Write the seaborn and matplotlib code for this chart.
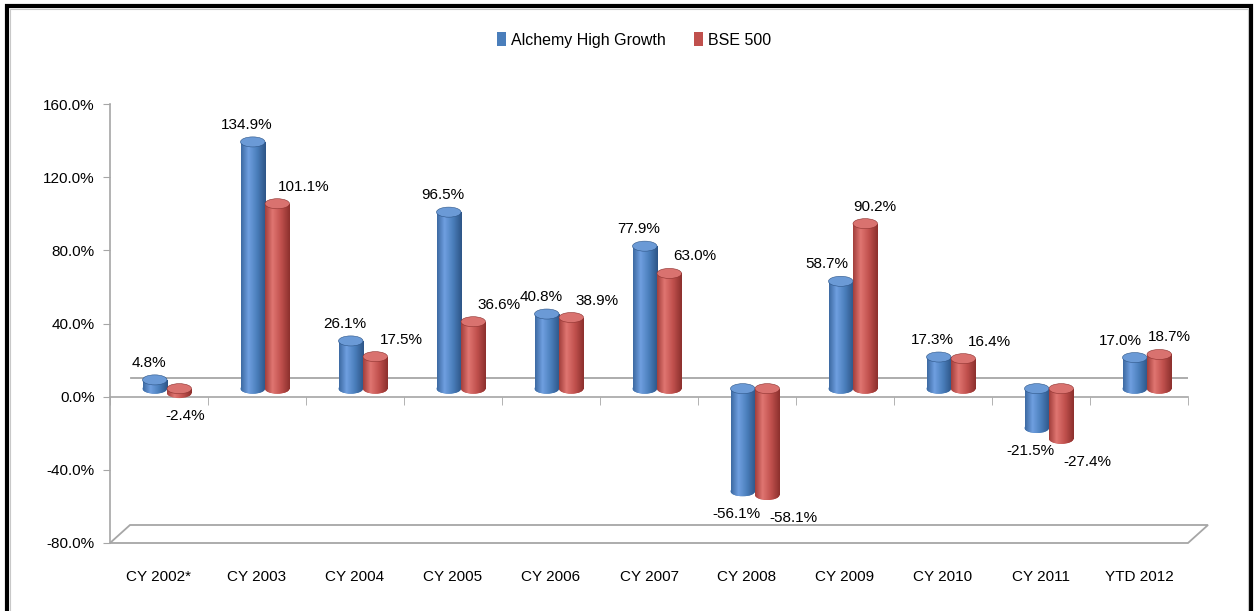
import numpy as np
import pandas as pd
import seaborn as sns
import matplotlib
matplotlib.use("Agg")
import matplotlib.pyplot as plt
from matplotlib import font_manager
from matplotlib.colors import LinearSegmentedColormap
from matplotlib.patches import Ellipse, Polygon, Rectangle
from matplotlib.ticker import FuncFormatter
from matplotlib.transforms import ScaledTranslation

# data (% returns)
periods = ['CY 2002*', 'CY 2003', 'CY 2004', 'CY 2005', 'CY 2006', 'CY 2007',
           'CY 2008', 'CY 2009', 'CY 2010', 'CY 2011', 'YTD 2012']
alchemy = [4.8, 134.9, 26.1, 96.5, 40.8, 77.9, -56.1, 58.7, 17.3, -21.5, 17.0]
bse500 = [-2.4, 101.1, 17.5, 36.6, 38.9, 63.0, -58.1, 90.2, 16.4, -27.4, 18.7]
series = ['Alchemy High Growth', 'BSE 500']
yticks = [-80, -40, 0, 40, 80, 120, 160]

installed = {f.name for f in font_manager.fontManager.ttflist}
font = 'Liberation Sans Narrow' if 'Liberation Sans Narrow' in installed else 'Liberation Sans'
plt.rcParams['font.family'] = [font, 'DejaVu Sans']
fs = 11

df = pd.DataFrame({
    'period': periods * 2,
    'ret': alchemy + bse500,
    'series': [series[0]] * len(periods) + [series[1]] * len(periods),
})

blue = '#4a7ebb'
red = '#c0504d'
grey = '#a6a6a6'

fig = plt.figure(figsize=(12.6, 6.11), dpi=100)
ax = fig.add_axes([110 / 1260, 68 / 611, 1078 / 1260, 439 / 611])

sns.barplot(data=df, x='period', y='ret', hue='series', palette=[blue, red],
            width=0.5, saturation=1, ax=ax)
handles, labels = ax.get_legend_handles_labels()
ax.get_legend().remove()

# fake 3d depth: shift bars up/right a few pixels
depth = ScaledTranslation(8 / 100, 8 / 100, fig.dpi_scale_trans)
shift = ax.transData + depth

shades = [
    ('#3d6aa3', '#6f9fe0', '#4a7ebb', '#2d5587', '#6b9ad6'),
    ('#a33f3c', '#e07571', '#c0504d', '#8c302d', '#d9726f'),
]
eh = 5.5  # cap height in data units
for cont, (edge, light, base, dark, cap) in zip(ax.containers, shades):
    cmap = LinearSegmentedColormap.from_list('cyl', [(0, edge), (0.3, light), (0.65, base), (1, dark)])
    grad = np.linspace(0, 1, 64)[None, :]
    for bar in cont:
        x0, w = bar.get_x(), bar.get_width()
        lo, hi = sorted([bar.get_y(), bar.get_y() + bar.get_height()])
        bar.set_transform(shift)
        bar.set_edgecolor('none')
        im = ax.imshow(grad, extent=[x0, x0 + w, lo, hi], aspect='auto', cmap=cmap,
                       transform=shift, zorder=3, interpolation='bilinear')
        im.set_clip_path(bar)
        bot = Ellipse((x0 + w / 2, lo), w, eh, transform=shift, facecolor=base,
                      edgecolor='none', zorder=2)
        ax.add_patch(bot)
        im2 = ax.imshow(grad, extent=[x0, x0 + w, lo - eh / 2, lo], aspect='auto', cmap=cmap,
                        transform=shift, zorder=3, interpolation='bilinear')
        im2.set_clip_path(bot)
        ax.add_patch(Ellipse((x0 + w / 2, hi), w, eh, transform=shift, facecolor=cap,
                             edgecolor=dark, lw=0.4, zorder=4))

ax.set_xlim(-0.5, 10.5)
ax.set_ylim(-80, 160)

# data labels
for i in range(len(periods)):
    a, b = alchemy[i], bse500[i]
    ba, bb = ax.containers[0][i], ax.containers[1][i]
    same = a * b > 0
    if same and b < a:
        dxa_, dxb_ = 2, 34
    elif same:
        dxa_, dxb_ = -6, 18
    else:
        dxa_, dxb_ = 2, 14
    for bar, v, dx in [(ba, a, dxa_), (bb, b, dxb_)]:
        cx = bar.get_x() + bar.get_width() / 2
        dy = 25 if v >= 0 else -15
        ax.annotate(f'{v:.1f}%', xy=(cx, v), xytext=(dx, dy), textcoords='offset pixels',
                    ha='center', va='center', fontsize=fs, zorder=6)

# back wall zero line and floor
back = ax.transData + ScaledTranslation(21 / 100, 19 / 100, fig.dpi_scale_trans)
ax.plot(ax.get_xlim(), [0, 0], color=grey, lw=1.3, transform=back, zorder=1)
dxa, dya = 20 / 1078, 18 / 439
ax.add_patch(Polygon([(0, 0), (1, 0), (1 + dxa, dya), (dxa, dya)], closed=True,
                     transform=ax.transAxes, fill=False, edgecolor=grey, lw=1.3, clip_on=False))

# axes styling
ax.spines[['top', 'right']].set_visible(False)
ax.spines['left'].set_color(grey)
ax.spines['bottom'].set_color(grey)
ax.spines['bottom'].set_position(('data', 0))
ax.spines['left'].set_linewidth(1.2)
ax.spines['bottom'].set_linewidth(1.2)

ax.set_xticks(range(len(periods)))
ax.set_xticklabels(periods)
ax.set_xticks(np.arange(-0.5, len(periods), 1), minor=True)
ax.tick_params(axis='x', which='major', length=0, pad=125, labelsize=fs)
ax.tick_params(axis='x', which='minor', length=6, color=grey, direction='out')
ax.set_yticks(yticks)
ax.yaxis.set_major_formatter(FuncFormatter(lambda v, _: f'{v:.1f}%'))
ax.tick_params(axis='y', length=5, color=grey, pad=6, labelsize=fs)
ax.set_xlabel('')
ax.set_ylabel('')

fig.legend(handles, labels, loc='center', bbox_to_anchor=(634 / 1260, 1 - 40 / 611),
           ncol=2, frameon=False, fontsize=11.5, handlelength=0.55, handleheight=0.9,
           handletextpad=0.3, columnspacing=1.8)

# outer frame
fig.add_artist(Rectangle((7 / 1260, -0.05), (1251 - 7) / 1260, 1 - 6 / 611 + 0.05,
                         transform=fig.transFigure, fill=False, edgecolor='black', lw=3))
fig.add_artist(Rectangle((10 / 1260, -0.05), (1248 - 10) / 1260, 1 - 9 / 611 + 0.05,
                         transform=fig.transFigure, fill=False, edgecolor='#c8c8c8', lw=0.8))

fig.savefig('out.png', dpi=100)
